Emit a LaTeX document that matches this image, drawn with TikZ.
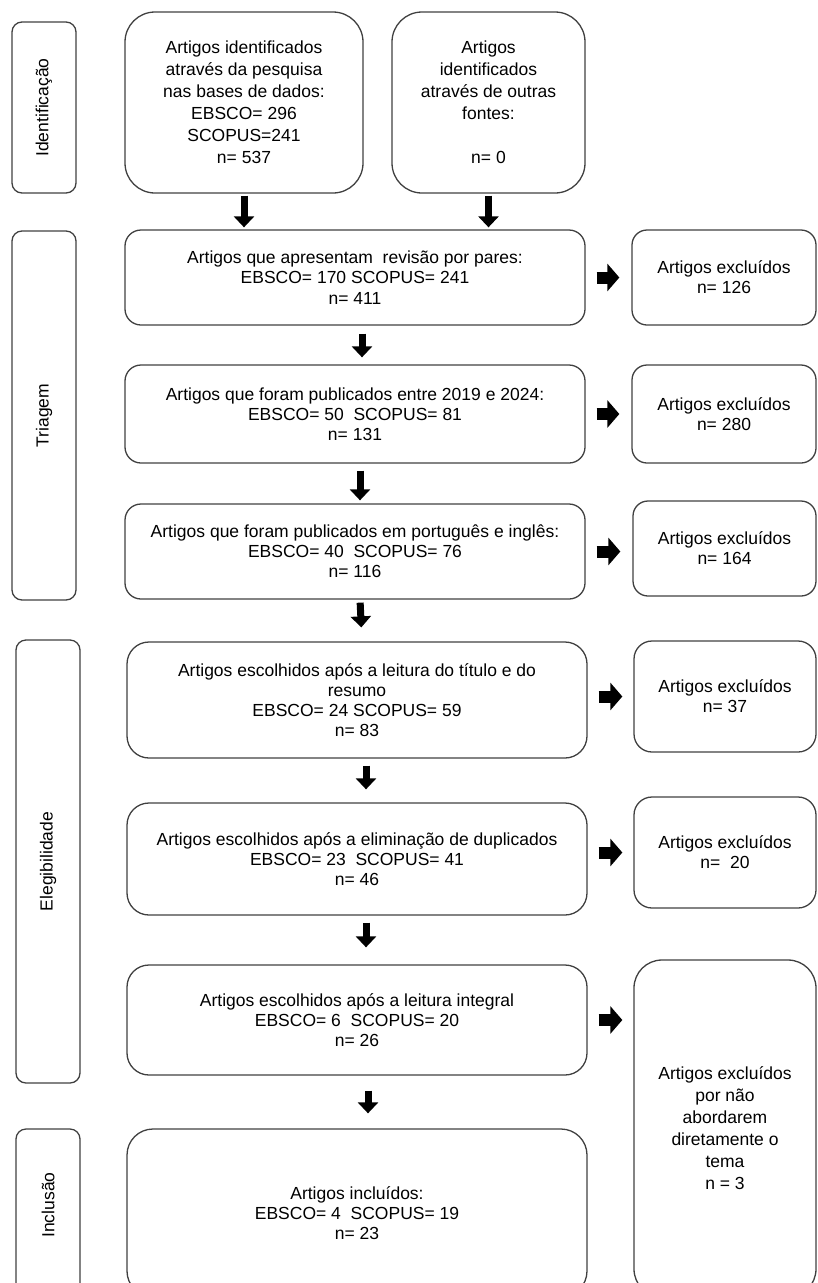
\documentclass[tikz,border=0pt]{standalone}
\usepackage{fontspec}
\setmainfont{Liberation Sans}
\usepackage{xcolor}
\usetikzlibrary{arrows.meta,positioning}
\definecolor{linegray}{HTML}{404040}

\begin{document}
\begin{tikzpicture}[x=1pt,y=-1pt,
      every node/.style={font=\fontsize{17.5}{20.2}\selectfont},
      phase/.style={draw=linegray,line width=1.3pt,rounded corners=10pt,
                    inner sep=0pt,minimum width=64pt},
      stepbox/.style={draw=linegray,line width=1.3pt,rounded corners=16pt,
                      align=center,inner sep=0pt,minimum width=460pt},
      exclbox/.style={draw=linegray,line width=1.3pt,rounded corners=18pt,
                      align=center,inner sep=0pt,minimum width=183pt},
      widelines/.style={font=\fontsize{17.5}{22}\selectfont},
      downarr/.style={line width=7pt,-{Triangle[width=20pt,length=11pt]}},
      rightarr/.style={line width=12pt,-{Triangle[width=27pt,length=12pt]}},
  ]
    \useasboundingbox (0,0) rectangle (817,1283);

    % phases
    \node[phase,minimum height=171pt] (fid) at (44,107.5) {};
    \node[rotate=90] at (fid.center) {Identificação};
    \node[phase,minimum height=369pt] (ftri) at (44,415.5) {};
    \node[rotate=90] at (ftri.center) {Triagem};
    \node[phase,minimum height=443pt] (fele) at (48,861.5) {};
    \node[rotate=90] at (fele.center) {Elegibilidade};
    \node[phase,minimum height=166pt] (finc) at (48,1212) {};
    \node[rotate=90] at ([yshift=7pt]finc.center) {Inclusão};

    % identification
    \node[stepbox,widelines,rounded corners=30pt,minimum width=238pt,minimum height=181pt]
      (id1) at (244,102.5)
      {Artigos identificados\\através da pesquisa\\nas bases de dados:\\EBSCO= 296\\SCOPUS=241\\n= 537};
    \node[stepbox,widelines,rounded corners=30pt,minimum width=193pt,minimum height=181pt]
      (id2) at (488.5,102.5)
      {Artigos\\identificados\\através de outras\\fontes:\\\mbox{}\\n= 0};

    % screening
    \node[stepbox,minimum height=95pt] (tri1) at (355,277.5)
      {Artigos que apresentam~ revisão por pares:\\EBSCO= 170 SCOPUS= 241\\n= 411};
    \node[exclbox,rounded corners=15pt,minimum width=184pt,minimum height=95pt]
      (exc1) at (724,277.5) {Artigos excluídos\\n= 126};
    \node[stepbox,minimum height=98pt] (tri2) at (355,414)
      {Artigos que foram publicados entre 2019 e 2024:\\EBSCO= 50~~SCOPUS= 81\\n= 131};
    \node[exclbox,rounded corners=15pt,minimum width=184pt,minimum height=98pt]
      (exc2) at (724,414) {Artigos excluídos\\n= 280};
    \node[stepbox,minimum height=95pt] (tri3) at (355,551.5)
      {Artigos que foram publicados em português e inglês:\\EBSCO= 40~~SCOPUS= 76\\n= 116};
    \node[exclbox,rounded corners=15pt,minimum height=95pt]
      (exc3) at (724.5,548.5) {Artigos excluídos\\n= 164};

    % eligibility
    \node[stepbox,rounded corners=22pt,minimum height=116pt] (ele1) at (357,700)
      {Artigos escolhidos após a leitura do título e do\\resumo\\EBSCO= 24 SCOPUS= 59\\n= 83};
    \node[exclbox,minimum width=182pt,minimum height=111pt]
      (exc4) at (725,696.5) {Artigos excluídos\\n= 37};
    \node[stepbox,rounded corners=22pt,minimum height=112pt] (ele2) at (357,859)
      {Artigos escolhidos após a eliminação de duplicados\\EBSCO= 23~~SCOPUS= 41\\n= 46};
    \node[exclbox,minimum width=182pt,minimum height=111pt]
      (exc5) at (725,852.5) {Artigos excluídos\\n=~~20};
    \node[stepbox,rounded corners=22pt,minimum height=110pt] (ele3) at (357,1020)
      {Artigos escolhidos após a leitura integral\\EBSCO= 6~~SCOPUS= 20\\n= 26};
    \node[exclbox,widelines,rounded corners=28pt,minimum width=182pt,minimum height=337pt]
      (exc6) at (725,1128.5)
      {Artigos excluídos\\por não\\abordarem\\diretamente o\\tema\\n = 3};

    % inclusion
    \node[stepbox,rounded corners=26pt,minimum height=168pt] (inc1) at (357,1213)
      {Artigos incluídos:\\EBSCO= 4~~SCOPUS= 19\\n= 23};

    % arrows down
    \draw[downarr,shorten <=2pt,shorten >=2pt] (id1.south) -- (id1.south |- tri1.north);
    \draw[downarr,shorten <=2pt,shorten >=2pt] (id2.south) -- (id2.south |- tri1.north);
    \draw[downarr,shorten <=8pt,shorten >=7pt] ([xshift=7pt]tri1.south) -- ([xshift=7pt]tri2.north);
    \draw[downarr,shorten <=7pt,shorten >=3pt] ([xshift=5pt]tri2.south) -- ([xshift=5pt]tri3.north);
    \draw[downarr,shorten <=3pt,shorten >=14pt] ([xshift=5pt]tri3.south) -- ([xshift=5pt]ele1.north);
    \draw[downarr,shorten <=7pt,shorten >=13pt] ([xshift=9pt]ele1.south) -- ([xshift=9pt]ele2.north);
    \draw[downarr,shorten <=7pt,shorten >=17pt] ([xshift=9pt]ele2.south) -- ([xshift=9pt]ele3.north);
    \draw[downarr,shorten <=15pt,shorten >=15pt] ([xshift=11pt]ele3.south) -- ([xshift=11pt]inc1.north);

    % arrows right
    \draw[rightarr,shorten <=11pt,shorten >=12pt] (tri1.east) -- (exc1.west);
    \draw[rightarr,shorten <=11pt,shorten >=12pt] (tri2.east) -- (exc2.west);
    \draw[rightarr,shorten <=11pt,shorten >=12pt] (tri3.east) -- (tri3.east -| exc3.west);
    \draw[rightarr,shorten <=11pt,shorten >=11pt] (ele1.east |- exc4.west) -- (exc4.west);
    \draw[rightarr,shorten <=11pt,shorten >=11pt] (ele2.east |- exc5.west) -- (exc5.west);
    \draw[rightarr,shorten <=11pt,shorten >=11pt] (ele3.east) -- (ele3.east -| exc6.west);
\end{tikzpicture}
\end{document}
